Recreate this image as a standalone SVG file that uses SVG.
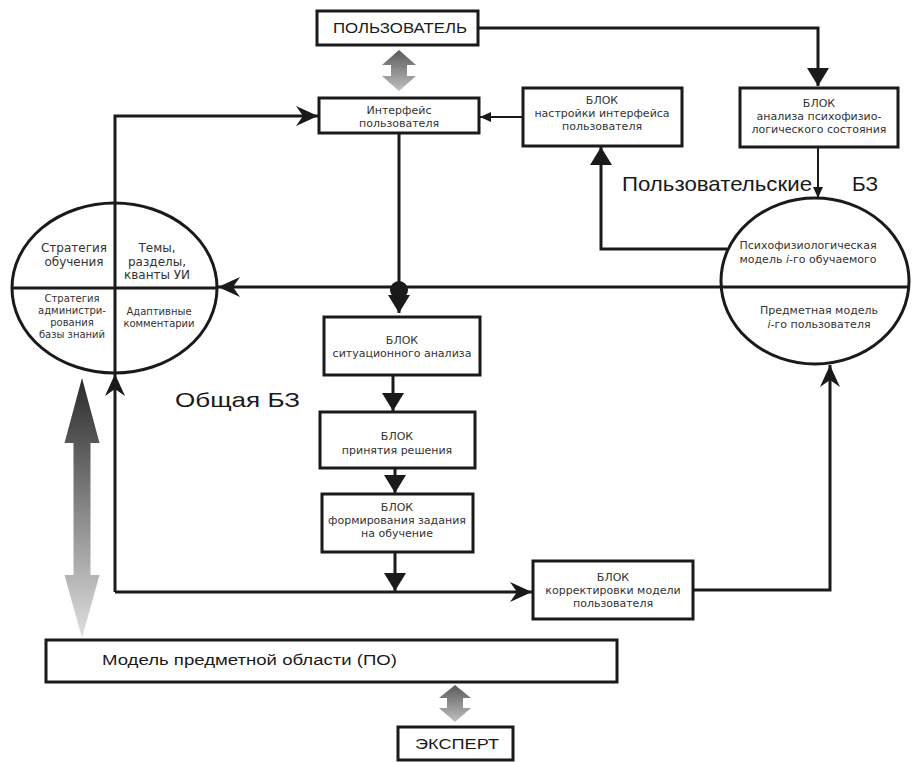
<svg xmlns="http://www.w3.org/2000/svg" width="912" height="762" viewBox="0 0 912 762">
<style>
.box{fill:#fff;stroke:#1a1a1a;stroke-width:3}
.ell{fill:#fff;stroke:#1a1a1a;stroke-width:3}
.div{stroke:#1a1a1a;stroke-width:3;fill:none}
.c{fill:none;stroke:#1a1a1a;stroke-width:3}
.thin{fill:none;stroke:#1a1a1a;stroke-width:2}
.t{font-family:"DejaVu Sans","Liberation Sans",sans-serif;font-size:11px;fill:#333;text-anchor:middle}
.t12{font-family:"DejaVu Sans","Liberation Sans",sans-serif;font-size:12px;fill:#333;text-anchor:middle}
.t10{font-family:"DejaVu Sans","Liberation Sans",sans-serif;font-size:10px;fill:#333;text-anchor:middle}
.big{font-family:"Liberation Sans",Arial,sans-serif;fill:#1a1a1a}
</style>
<defs>
<marker id="aN" viewBox="-24 -11 25 22" refX="0" refY="0" markerWidth="25" markerHeight="22" markerUnits="userSpaceOnUse" orient="auto"><path d="M0,0 L-22,-10 L-15,0 L-22,10 Z" fill="#1a1a1a"/></marker>
<marker id="aT" viewBox="-19 -12 20 24" refX="0" refY="0" markerWidth="20" markerHeight="24" markerUnits="userSpaceOnUse" orient="auto"><path d="M0,0 L-18,-11 L-18,11 Z" fill="#1a1a1a"/></marker>
<marker id="aS" viewBox="-12 -6 13 12" refX="0" refY="0" markerWidth="13" markerHeight="12" markerUnits="userSpaceOnUse" orient="auto"><path d="M0,0 L-11,-5 L-11,5 Z" fill="#1a1a1a"/></marker>
<linearGradient id="gBig" x1="0" y1="0" x2="0" y2="1"><stop offset="0" stop-color="#2a2a2a"/><stop offset="1" stop-color="#e0e0e0"/></linearGradient>
<linearGradient id="gSm" x1="0" y1="0" x2="0" y2="1"><stop offset="0" stop-color="#5a5a5a"/><stop offset="1" stop-color="#c0c0c0"/></linearGradient>
</defs>

<g id="connectors">
<path class="c" d="M478,28 H818 V86" marker-end="url(#aT)"/>
<path class="thin" d="M523,117 H480" marker-end="url(#aS)"/>
<path class="c" d="M727,249 H601 V147" marker-end="url(#aT)"/>
<path class="thin" d="M818,147 V198" marker-end="url(#aS)"/>
<path class="c" d="M115,203 V116 H318" marker-end="url(#aN)"/>
<path class="c" d="M722,287 H218" marker-end="url(#aN)"/>
<path class="c" d="M399,133 V313" marker-end="url(#aT)"/>
<circle cx="399" cy="290" r="9" fill="#1a1a1a"/>
<path class="c" d="M393,375 V411" marker-end="url(#aT)"/>
<path class="c" d="M395,468 V493" marker-end="url(#aT)"/>
<path class="c" d="M395,552 V591" marker-end="url(#aT)"/>
<path class="c" d="M115,592 V374" marker-end="url(#aN)"/>
<path class="c" d="M115,592 H532" marker-end="url(#aN)"/>
<path class="c" d="M693,590 H830 V365" marker-end="url(#aN)"/>
<polygon points="399,50 416,65 407,65 407,76 416,76 399,91 382,76 391,76 391,65 382,65" fill="url(#gSm)"/>
<polygon points="455,685 471,698 463,698 463,708 471,708 455,722 439,708 447,708 447,698 439,698" fill="url(#gSm)"/>
<polygon points="82,378 99.5,443 90.5,443 90.5,575 99.5,575 82,638 64.5,575 73.5,575 73.5,443 64.5,443" fill="url(#gBig)"/>
</g>

<g id="user">
<rect class="box" x="317" y="11" width="161" height="34"/>
<text class="big" x="333" y="33" font-size="14" textLength="134" lengthAdjust="spacingAndGlyphs">ПОЛЬЗОВАТЕЛЬ</text>
</g>

<g id="interface">
<rect class="box" x="319" y="98" width="160" height="35"/>
<text class="t" x="399" y="114">Интерфейс</text>
<text class="t" x="399" y="127">пользователя</text>
</g>

<g id="block-settings">
<rect class="box" x="523" y="88" width="159" height="58"/>
<text class="t" x="602" y="104">БЛОК</text>
<text class="t" x="602" y="117">настройки интерфейса</text>
<text class="t" x="602" y="130">пользователя</text>
</g>

<g id="block-psy">
<rect class="box" x="740" y="88" width="158" height="59"/>
<text class="t" x="819" y="107">БЛОК</text>
<text class="t" x="819" y="120">анализа психофизио-</text>
<text class="t" x="819" y="133">логического состояния</text>
</g>

<g id="label-user-kb">
<text class="big" x="622" y="191" font-size="21" textLength="190" lengthAdjust="spacingAndGlyphs">Пользовательские</text>
<text class="big" x="852" y="191" font-size="21" textLength="26" lengthAdjust="spacingAndGlyphs">БЗ</text>
</g>

<g id="user-kb">
<ellipse class="ell" cx="815" cy="281" rx="94" ry="83"/>
<line class="div" x1="722" y1="287" x2="908" y2="287"/>
<text class="t" x="808" y="249" font-size="11.5">Психофизиологическая</text>
<text class="t" x="808" y="263" font-size="11.5">модель <tspan font-style="italic">i</tspan>-го обучаемого</text>
<text class="t" x="819" y="314" font-size="11.5">Предметная модель</text>
<text class="t" x="819" y="328" font-size="11.5"><tspan font-style="italic">i</tspan>-го пользователя</text>
</g>

<g id="common-kb">
<ellipse class="ell" cx="114.5" cy="288" rx="102.5" ry="85"/>
<line class="div" x1="12" y1="288" x2="217" y2="288"/>
<line class="div" x1="115" y1="203" x2="115" y2="373"/>
<text class="t12" x="74" y="252">Стратегия</text>
<text class="t12" x="74" y="266">обучения</text>
<text class="t12" x="157" y="252">Темы,</text>
<text class="t12" x="157" y="266">разделы,</text>
<text class="t12" x="157" y="279">кванты УИ</text>
<text class="t10" x="72" y="302">Стратегия</text>
<text class="t10" x="72" y="314">администри-</text>
<text class="t10" x="72" y="326">рования</text>
<text class="t10" x="72" y="338">базы знаний</text>
<text class="t10" x="159" y="315">Адаптивные</text>
<text class="t10" x="159" y="327">комментарии</text>
</g>

<g id="label-common-kb">
<text class="big" x="175" y="407" font-size="21" textLength="125" lengthAdjust="spacingAndGlyphs">Общая БЗ</text>
</g>

<g id="block-situation">
<rect class="box" x="324" y="317" width="156" height="58"/>
<text class="t" x="402" y="344">БЛОК</text>
<text class="t" x="402" y="357">ситуационного анализа</text>
</g>

<g id="block-decision">
<rect class="box" x="320" y="412" width="155" height="56"/>
<text class="t" x="397" y="440">БЛОК</text>
<text class="t" x="397" y="454">принятия решения</text>
</g>

<g id="block-task">
<rect class="box" x="322" y="494" width="151" height="58"/>
<text class="t" x="397" y="511">БЛОК</text>
<text class="t" x="397" y="524">формирования задания</text>
<text class="t" x="397" y="537">на обучение</text>
</g>

<g id="block-correct">
<rect class="box" x="533" y="561" width="160" height="58"/>
<text class="t" x="613" y="581">БЛОК</text>
<text class="t" x="613" y="594">корректировки модели</text>
<text class="t" x="613" y="607">пользователя</text>
</g>

<g id="domain-model">
<rect class="box" x="46" y="640" width="571" height="42"/>
<text class="big" x="102" y="665" font-size="14" textLength="295" lengthAdjust="spacingAndGlyphs">Модель предметной области (ПО)</text>
</g>

<g id="expert">
<rect class="box" x="398" y="727" width="115" height="33"/>
<text class="big" x="415" y="749" font-size="15" textLength="84" lengthAdjust="spacingAndGlyphs">ЭКСПЕРТ</text>
</g>
</svg>
